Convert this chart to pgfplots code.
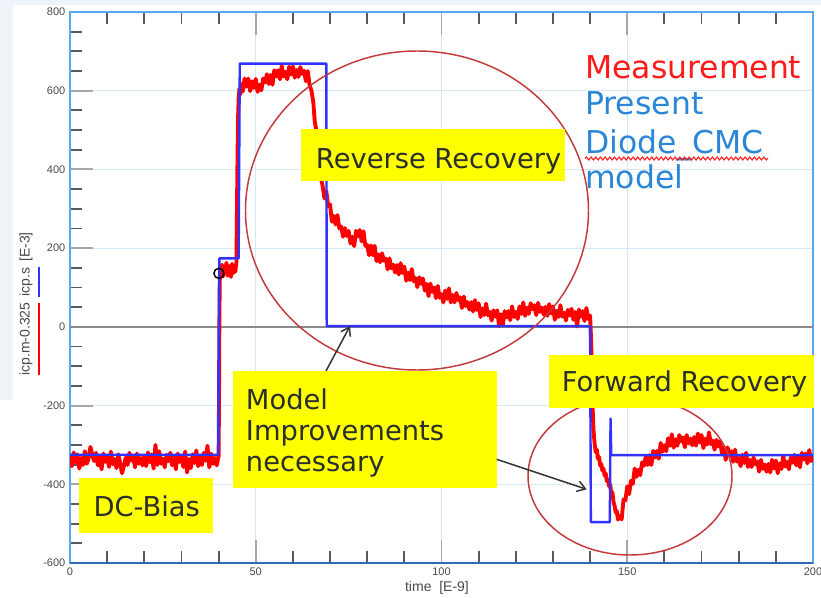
\documentclass[border=0pt]{standalone}
\usepackage{fontspec}
\setmainfont{Liberation Sans}
\newfontfamily\dvs{DejaVu Sans}
\usepackage{pgfplots}
\usepackage{pgfplotstable}
\pgfplotsset{compat=1.18}
\usetikzlibrary{arrows.meta,decorations.pathmorphing}
\definecolor{bgc}{HTML}{EEF3FA}
\definecolor{gridblue}{HTML}{D5E8F8}
\definecolor{axisblue}{HTML}{55A8F2}
\definecolor{axisbottom}{HTML}{2E6DB4}
\definecolor{tickminor}{HTML}{5A5A5A}
\definecolor{tickmajor}{HTML}{A8A8A8}
\definecolor{zerogray}{HTML}{8A8A8A}
\definecolor{labelgray}{HTML}{4A4A4A}
\definecolor{mred}{HTML}{FF0000}
\definecolor{mblue}{HTML}{3232FF}
\definecolor{legred}{HTML}{FF1A1A}
\definecolor{legblue}{HTML}{2A86D6}
\definecolor{boxyellow}{HTML}{FFFF00}
\definecolor{boxtext}{HTML}{2B2F2B}
\definecolor{circred}{HTML}{C43A3A}
\definecolor{arrowc}{HTML}{333333}

\pgfplotstableread{
x y
0 -328
0.5 -354
1 -319
1.5 -344
2 -324
2.5 -360
3 -333
3.5 -351
4 -316
4.5 -348
5 -335
5.5 -305
6 -325
6.5 -341
7 -320
7.5 -352
8 -330
8.5 -362
9 -322
9.5 -343
10 -327
10.5 -356
11 -317
11.5 -349
12 -336
12.5 -359
13 -324
13.5 -346
14 -372
14.5 -354
15 -332
15.5 -351
16 -320
16.5 -340
17 -328
17.5 -357
18 -322
18.5 -348
19 -333
19.5 -352
20 -328
20.5 -354
21 -319
21.5 -344
22 -324
22.5 -360
23 -300
23.5 -351
24 -316
24.5 -348
25 -335
25.5 -357
26 -325
26.5 -341
27 -320
27.5 -352
28 -330
28.5 -362
29 -322
29.5 -343
30 -327
30.5 -356
31 -317
31.5 -370
32 -336
32.5 -359
33 -324
33.5 -346
34 -314
34.5 -354
35 -332
35.5 -351
36 -320
36.5 -340
37 -302
37.5 -357
38 -322
38.5 -348
39 -333
39.5 -352
40 -328
40.1 -200
40.2 0
40.3 110
40.4 150
40.6 132
40.9 158
41.2 128
41.5 150
41.8 138
42.1 163
42.4 130
42.7 155
43.0 142
43.3 127
43.6 160
43.9 136
44.2 152
44.5 140
44.8 165
45.0 350
45.2 520
45.4 580
45.6 605
45.8 590
46.0 618
46.5 598
47.0 631
47.5 610
48.0 631
48.5 599
49.0 624
49.5 607
50.0 630
50.5 597
51.0 615
51.5 601
52.0 631
52.5 621
53.0 642
53.5 617
54.0 640
54.5 615
55.0 652
55.5 636
56.0 652
56.5 629
57.0 663
57.5 636
58.0 648
58.5 629
59.0 661
59.5 641
60.0 662
60.5 633
61.0 653
61.5 635
62.0 660
62.5 643
63.0 651
63.5 624
64.0 650
64.5 614
65.0 600
65.5 570
65.9 520
66.4 495
66.8 450
67.2 410
67.6 375
68.0 358
68.5 326
69.0 345
69.5 306
70.0 311
70.5 267
71.0 282
71.5 260
72.0 284
72.5 250
73.0 255
73.5 229
74.0 251
74.5 231
75.0 244
75.5 212
76.0 229
76.5 205
77.0 244
77.5 230
78.0 246
78.5 217
79.0 243
79.5 206
80.0 208
80.5 182
81.0 207
81.5 182
82.0 206
82.5 167
83.0 184
83.5 164
84.0 187
84.5 168
85.0 174
85.5 146
86.0 174
86.5 149
87.0 158
87.5 138
88.0 157
88.5 133
89.0 162
89.5 137
90.0 153
90.5 117
91.0 138
91.5 119
92.0 147
92.5 116
93.0 124
93.5 101
94.0 126
94.5 109
95.0 123
95.5 92
96.0 109
96.5 78
97.0 110
97.5 89
98.0 100
98.5 73
99.0 104
99.5 74
100.0 83
100.5 62
101.0 92
101.5 71
102.0 98
102.5 62
103.0 81
103.5 62
104.0 86
104.5 68
105.0 75
105.5 48
106.0 77
106.5 53
107.0 63
107.5 44
108.0 63
108.5 39
109.0 68
109.5 43
110.0 60
110.5 25
111.0 47
111.5 30
112.0 59
112.5 29
113.0 38
113.5 16
114.0 42
114.5 26
115.0 42
115.5 2
116.0 32
116.5 4
117.0 40
117.5 24
118.0 40
118.5 17
119.0 52
119.5 25
120.0 38
120.5 20
121.0 52
121.5 33
122.0 62
122.5 28
123.0 49
123.5 33
124.0 60
124.5 45
125.0 55
125.5 30
126.0 61
126.5 38
127.0 49
127.5 31
128.0 51
128.5 28
129.0 58
129.5 34
130.0 52
130.5 18
131.0 41
131.5 25
132.0 55
132.5 26
133.0 36
133.5 16
134.0 43
134.5 29
135.0 46
135.5 18
136.0 38
136.5 1
137.0 44
137.5 26
138.0 40
138.5 15
139.0 48
139.5 20
140.0 29
140.3 -40
140.5 -130
140.7 -210
140.9 -260
141.2 -295
141.5 -318
141.8 -312
142.1 -335
142.4 -330
142.7 -352
143.0 -348
143.3 -365
143.6 -360
143.9 -378
144.2 -372
144.5 -392
144.8 -388
145.1 -405
145.4 -400
145.7 -425
146.0 -420
146.3 -445
146.6 -455
146.9 -472
147.2 -468
147.5 -490
147.8 -480
148.0 -483
148.5 -489
149.0 -438
149.5 -441
150.0 -405
150.5 -425
151.0 -391
151.5 -399
152.0 -360
152.5 -381
153.0 -363
153.5 -377
154.0 -344
154.5 -353
155.0 -329
155.5 -351
156.0 -326
156.5 -351
157.0 -315
157.5 -332
158.0 -315
158.5 -335
159.0 -295
159.5 -317
160.0 -301
160.5 -316
161.0 -283
161.5 -302
162.0 -273
162.5 -307
163.0 -286
163.5 -302
164.0 -275
164.5 -291
165.0 -281
165.5 -306
166.0 -275
166.5 -296
167.0 -284
167.5 -301
168.0 -280
168.5 -302
169.0 -271
169.5 -294
170.0 -275
170.5 -308
171.0 -284
171.5 -299
172.0 -268
172.5 -298
173.0 -289
173.5 -312
174.0 -287
174.5 -304
175.0 -290
175.5 -322
176.0 -306
176.5 -338
177.0 -306
177.5 -327
178.0 -316
178.5 -343
179.0 -312
179.5 -342
180.0 -333
180.5 -354
181.0 -325
181.5 -346
182.0 -320
182.5 -356
183.0 -338
183.5 -356
184.0 -332
184.5 -349
185.0 -342
185.5 -368
186.0 -338
186.5 -361
187.0 -350
187.5 -368
188.0 -348
188.5 -370
189.0 -338
189.5 -360
190.0 -340
190.5 -372
191.0 -347
191.5 -361
192.0 -328
192.5 -355
193.0 -343
193.5 -362
194.0 -332
194.5 -345
195.0 -325
195.5 -352
196.0 -330
196.5 -357
197.0 -320
197.5 -337
198.0 -322
198.5 -347
199.0 -313
199.5 -341
200.0 -329
}\redtab

\pgfplotstableread{
x y
0 -325
39.9 -325
40.2 174
45.4 174
45.7 669
69.0 669
69.1 2
140.0 2
140.2 -496
145.3 -496
145.5 -233
145.7 -326
200 -326
}\bluetab

\begin{document}
\begin{tikzpicture}
\begin{scope}[x=0.75pt,y=-0.75pt,shift={(-52.5pt,422.25pt)}]
\fill[white] (0,0) rectangle (821,597);
\fill[bgc] (0,0) rectangle (821,5);
\fill[bgc] (0,0) rectangle (13,400);
\end{scope}
\begin{axis}[
  at={(0,0)}, anchor=south west,
  width=557.25pt, height=413.25pt, scale only axis,
  xmin=0, xmax=200, ymin=-600, ymax=800,
  xtick={0,50,...,200}, ytick={-600,-400,...,800},
  minor x tick num=4, minor y tick num=3,
  xtick pos=both, xticklabel pos=lower, ytick pos=left,
  tick align=inside,
  major tick length=17pt, minor tick length=9pt,
  major tick style={color=tickmajor, line width=1.4pt},
  minor tick style={color=tickminor, line width=1.4pt},
  grid=major, major grid style={color=gridblue, line width=0.8pt},
  axis line style={color=axisblue, line width=1.9pt},
  tick label style={font=\fontsize{8.25}{9}\selectfont, text=labelgray},
  /pgf/number format/assume math mode=true,
  extra y ticks={0}, extra y tick labels={},
  extra y tick style={grid=major, major grid style={color=zerogray, line width=1.5pt}, major tick length=0pt},
]
\addplot[mred, line width=2.9pt, line join=round, no markers] table[x=x,y=y] {\redtab};
\addplot[mblue, line width=1.8pt, line join=round, no markers] table[x=x,y=y] {\bluetab};
\addplot[only marks, mark=o, mark size=3.8pt, black, mark options={line width=1.1pt}] coordinates {(40.1,136)};
\end{axis}
\begin{scope}[x=0.75pt,y=-0.75pt,shift={(-52.5pt,422.25pt)}]
\draw[axisbottom, line width=1.9pt] (70,563) -- (813,563);
\node[rotate=90, font=\fontsize{10.5}{12}\selectfont, text=labelgray, inner sep=0] at (26,247) {[E-3]};
\node[rotate=90, font=\fontsize{10.5}{12}\selectfont, text=labelgray, inner sep=0] at (26,282) {icp.s};
\node[rotate=90, font=\fontsize{10.5}{12}\selectfont, text=labelgray, inner sep=0] at (26,339) {icp.m-0.325};
\draw[mblue, line width=2pt] (39,267) -- (39,297);
\draw[mred, line width=2pt] (39,303) -- (39,375);
\node[font=\fontsize{10.5}{12}\selectfont, text=labelgray, inner sep=0] at (437,588) {time\ \ [E-9]};
\draw[circred, line width=1.1pt] (417,210.5) ellipse [x radius=171.5, y radius=159.5];
\draw[circred, line width=1.1pt] (630,476) ellipse [x radius=102, y radius=79];
\fill[boxyellow] (301,129) rectangle (565,181);
\fill[boxyellow] (232.7,371) rectangle (496.7,488.3);
\fill[boxyellow] (549,355) rectangle (814,408.3);
\fill[boxyellow] (79.3,478) rectangle (212.7,532.7);
\node[anchor=base west, inner sep=0, text=boxtext, font=\dvs\fontsize{20.5}{24}\selectfont] at (315.7,168.3) {Reverse Recovery};
\node[anchor=base west, inner sep=0, text=boxtext, font=\dvs\fontsize{20.5}{24}\selectfont] at (245.7,409) {Model};
\node[anchor=base west, inner sep=0, text=boxtext, font=\dvs\fontsize{20.5}{24}\selectfont] at (245.7,440) {Improvements};
\node[anchor=base west, inner sep=0, text=boxtext, font=\dvs\fontsize{20.5}{24}\selectfont] at (245.7,471.7) {necessary};
\node[anchor=base west, inner sep=0, text=boxtext, font=\dvs\fontsize{20.5}{24}\selectfont] at (561.7,391.7) {Forward Recovery};
\node[anchor=base west, inner sep=0, text=boxtext, font=\dvs\fontsize{20.5}{24}\selectfont] at (93.3,516.7) {DC-Bias};
\draw[arrowc, line width=1.1pt, -{Straight Barb[length=6pt,width=8pt]}] (326,371) -- (350,326);
\draw[arrowc, line width=1.1pt, -{Straight Barb[length=6pt,width=8pt]}] (496.7,459.3) -- (586.7,489.3);
\node[anchor=base west, inner sep=0, text=legred, font=\dvs\fontsize{23.6}{28}\selectfont] at (585,78.3) {Measurement};
\node[anchor=base west, inner sep=0, text=legblue, font=\dvs\fontsize{23.6}{28}\selectfont] at (585,115) {Present};
\node[anchor=base west, inner sep=0, text=legblue, font=\dvs\fontsize{23.6}{28}\selectfont] at (585,153.3) {Diode\_CMC};
\node[anchor=base west, inner sep=0, text=legblue, font=\dvs\fontsize{23.6}{28}\selectfont] at (585,188.3) {model};
\draw[legred, line width=0.8pt, decorate, decoration={snake, amplitude=1.1pt, segment length=3.5pt}] (585,158.5) -- (768,158.5);
\end{scope}
\pgfresetboundingbox
\begin{scope}[x=0.75pt,y=-0.75pt,shift={(-52.5pt,422.25pt)}]
\useasboundingbox (0,0) rectangle (821,597);
\end{scope}
\end{tikzpicture}
\end{document}
